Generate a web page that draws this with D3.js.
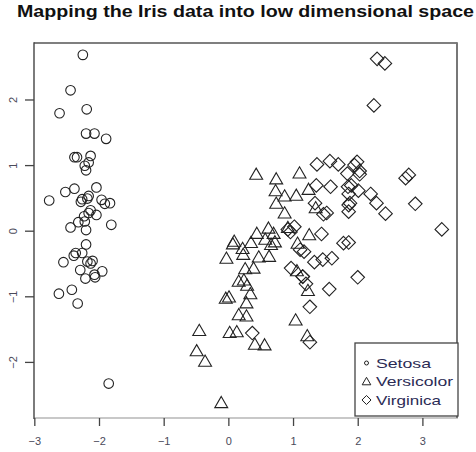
<!DOCTYPE html>
<html>
<head>
<meta charset="utf-8">
<script src="https://cdn.jsdelivr.net/npm/d3@7"></script>
<style>
  html, body { margin: 0; padding: 0; background: #fff; }
  svg { display: block; font-family: "Liberation Sans", Arial, sans-serif; }
</style>
</head>
<body>
<svg id="chart" width="476" height="452"></svg>
<script>
// Principal-component scores of the iris measurements (first two components)
const setosaX = [-2.26, -2.07, -2.36, -2.29, -2.38, -2.07, -2.44, -2.23, -2.33, -2.18,
  -2.16, -2.32, -2.21, -2.62, -2.19, -2.25, -2.20, -2.18, -1.89, -2.34,
  -1.91, -2.20, -2.77, -1.81, -2.22, -1.95, -2.04, -2.16, -2.13, -2.26,
  -2.13, -1.83, -2.61, -2.44, -2.10, -2.20, -2.04, -2.52, -2.42, -2.16,
  -2.28, -1.85, -2.55, -1.96, -2.13, -2.06, -2.38, -2.39, -2.22, -2.20];
const setosaY = [0.48, -0.67, -0.34, -0.60, 0.64, 1.48, 0.05, 0.22, -1.11, -0.47,
  1.04, 0.13, -0.73, -0.96, 1.85, 2.68, 1.48, 0.49, 1.40, 1.12,
  0.41, 0.92, 0.46, 0.09, 0.14, -0.62, 0.24, 0.53, 0.31, -0.34,
  -0.50, 0.42, 1.79, 2.14, -0.46, -0.21, 0.66, 0.59, -0.90, 0.27,
  0.44, -2.33, -0.48, 0.47, 1.14, -0.71, 1.12, -0.38, 0.99, 0.01];

const versicolorX = [1.10, 0.73, 1.24, 0.41, 1.07, 0.39, 0.74, -0.49, 0.92, 0.01,
  -0.11, 0.44, 0.56, 0.72, -0.03, 0.87, 0.35, 0.16, 1.22, 0.16,
  0.74, 0.47, 1.23, 0.63, 0.70, 0.87, 1.25, 1.35, 0.66, -0.04,
  0.13, 0.02, 0.24, 1.06, 0.22, 0.43, 1.05, 1.04, 0.07, 0.28,
  0.28, 0.62, 0.34, -0.36, 0.29, 0.09, 0.23, 0.57, -0.45, 0.26];
const versicolorY = [0.86, 0.59, 0.61, -1.75, -0.21, -0.59, 0.77, -1.85, 0.03, -1.03,
  -2.64, -0.06, -1.76, -0.19, -0.44, 0.51, -0.20, -0.79, -1.62, -1.30,
  0.40, -0.42, -0.93, -0.41, -0.06, 0.25, -0.08, 0.33, -0.23, -1.05,
  -1.56, -1.57, -0.77, -0.63, -0.29, 0.84, 0.52, -1.38, -0.22, -1.32,
  -1.12, 0.02, -0.98, -2.01, -0.85, -0.18, -0.38, -0.15, -1.54, -0.60];

const virginicaX = [1.84, 1.15, 2.20, 1.44, 1.86, 2.74, 0.37, 2.29, 2.00, 2.25,
  1.36, 1.60, 1.88, 1.26, 1.46, 1.58, 1.47, 2.42, 3.30, 1.26,
  2.03, 0.97, 2.89, 1.33, 1.70, 1.95, 1.17, 1.02, 1.78, 1.86,
  2.43, 2.30, 1.86, 1.11, 1.20, 2.79, 1.57, 1.34, 0.92, 1.85,
  2.01, 1.90, 1.15, 2.03, 1.99, 1.86, 1.56, 1.52, 1.37, 0.96];
const virginicaY = [0.87, -0.70, 0.56, -0.05, 0.29, 0.80, -1.56, 0.42, -0.71, 1.91,
  0.69, -0.42, 0.42, -1.16, -0.44, 0.67, 0.25, 2.55, 0.02, -1.70,
  0.91, -0.57, 0.41, -0.48, 1.01, 1.00, -0.32, 0.06, -0.19, 0.56,
  0.26, 2.62, -0.18, -0.29, -0.81, 0.85, 1.06, 0.42, 0.02, 0.67,
  0.61, 0.69, -0.70, 0.86, 1.05, 0.39, -0.89, 0.27, 1.01, -0.02];

const speciesNames = ["Setosa", "Versicolor", "Virginica"];
const xTicks = [-3, -2, -1, 0, 1, 2, 3];
const yTicks = [-2, -1, 0, 1, 2];
const titleText = "Mapping the Iris data into low dimensional space";

// ---- layout ----
const plot = { left: 34, right: 457, top: 43, bottom: 418 };
const x = d3.scaleLinear().domain([-3.005, 3.535]).range([plot.left, plot.right]);
const y = d3.scaleLinear().domain([-2.855, 2.861]).range([plot.bottom, plot.top]);

const svg = d3.select("#chart");
const ink = "#222";

// plotting symbols (open circle, open triangle, open diamond)
function trianglePath(R) {
  const r = 1.5551 * R, xc = 1.3468 * R, yc = 0.7776 * R;
  return `M0,${-r}L${xc},${yc}L${-xc},${yc}Z`;
}
function diamondPath(R) {
  const d = 1.4142 * R;
  return `M0,${-d}L${d},0L0,${d}L${-d},0Z`;
}
const R = 4.8;

const series = [
  { name: speciesNames[0], xs: setosaX, ys: setosaY, shape: "circle" },
  { name: speciesNames[1], xs: versicolorX, ys: versicolorY, shape: "triangle" },
  { name: speciesNames[2], xs: virginicaX, ys: virginicaY, shape: "diamond" }
];

// ---- frame ----
svg.append("line").attr("x1", plot.left).attr("x2", plot.right + 1)
  .attr("y1", plot.bottom).attr("y2", plot.bottom)
  .attr("stroke", "#c8c8c8").attr("stroke-width", 2);
svg.append("line").attr("x1", plot.left).attr("x2", plot.right)
  .attr("y1", plot.top).attr("y2", plot.top)
  .attr("stroke", "#555").attr("stroke-width", 1.6);
svg.append("line").attr("x1", plot.right).attr("x2", plot.right)
  .attr("y1", plot.top - 0.8).attr("y2", plot.bottom)
  .attr("stroke", "#777").attr("stroke-width", 2);
svg.append("line").attr("x1", plot.left).attr("x2", plot.left)
  .attr("y1", plot.top - 0.8).attr("y2", plot.bottom + 1)
  .attr("stroke", "#444").attr("stroke-width", 1.4);

// ---- axes ----
const xAxis = svg.append("g")
  .attr("transform", `translate(0,${plot.bottom})`)
  .call(d3.axisBottom(x).tickValues(xTicks).tickSize(8).tickFormat(d3.format("d")));
xAxis.select(".domain").remove();
xAxis.selectAll(".tick line").attr("stroke", "#444").attr("stroke-width", 1.3);
xAxis.selectAll(".tick text")
  .attr("y", 27).attr("dy", null)
  .attr("fill", "#4a4a5a")
  .style("font-size", "11px")
  .style("font-family", "'Liberation Sans', Arial, sans-serif");

const yAxis = svg.append("g")
  .attr("transform", `translate(${plot.left},0)`)
  .call(d3.axisLeft(y).tickValues(yTicks).tickSize(9).tickFormat(d3.format("d")));
yAxis.select(".domain").remove();
yAxis.selectAll(".tick line").attr("stroke", "#444").attr("stroke-width", 1.3);
yAxis.selectAll(".tick text")
  .attr("x", 0).attr("y", 0).attr("dy", null)
  .attr("transform", "translate(-17,0) rotate(-90)")
  .attr("text-anchor", "middle")
  .attr("fill", "#4a4a5a")
  .style("font-size", "11px")
  .style("font-family", "'Liberation Sans', Arial, sans-serif");

// ---- points ----
const pts = svg.append("g").attr("fill", "none").attr("stroke", ink).attr("stroke-width", 1.1);
series.forEach(s => {
  const data = s.xs.map((v, i) => ({ px: v, py: s.ys[i] }));
  if (s.shape === "circle") {
    pts.selectAll(null).data(data).join("circle")
      .attr("cx", d => x(d.px)).attr("cy", d => y(d.py)).attr("r", R);
  } else {
    const dPath = s.shape === "triangle" ? trianglePath(R) : diamondPath(R);
    pts.selectAll(null).data(data).join("path")
      .attr("d", dPath)
      .attr("transform", d => `translate(${x(d.px)},${y(d.py)})`);
  }
});

// ---- title ----
svg.append("text")
  .attr("x", 17).attr("y", 17)
  .attr("textLength", 457).attr("lengthAdjust", "spacingAndGlyphs")
  .style("font-size", "16px").style("font-weight", "bold")
  .attr("fill", "#111")
  .text(titleText);

// ---- legend ----
const lg = svg.append("g");
lg.append("rect").attr("x", 355).attr("y", 343).attr("width", 103).attr("height", 73)
  .attr("fill", "#fff").attr("stroke", "#444").attr("stroke-width", 1.3);
const legendRows = [
  { name: speciesNames[0], shape: "circle", cy: 363, w: 55 },
  { name: speciesNames[1], shape: "triangle", cy: 381.5, w: 77 },
  { name: speciesNames[2], shape: "diamond", cy: 400, w: 65 }
];
const Rl = 3.2;
legendRows.forEach(r => {
  if (r.shape === "circle") {
    lg.append("circle").attr("cx", 366.5).attr("cy", r.cy).attr("r", 2)
      .attr("fill", "none").attr("stroke", ink).attr("stroke-width", 1);
  } else {
    lg.append("path")
      .attr("d", r.shape === "triangle" ? trianglePath(Rl) : diamondPath(Rl))
      .attr("transform", `translate(366.5,${r.cy + (r.shape === "triangle" ? 0.8 : 0)})`)
      .attr("fill", "none").attr("stroke", ink).attr("stroke-width", 1);
  }
  lg.append("text")
    .attr("x", 376).attr("y", r.cy + 4.6)
    .attr("textLength", r.w).attr("lengthAdjust", "spacingAndGlyphs")
    .style("font-size", "13px")
    .attr("fill", "#2b2b55")
    .text(r.name);
});
</script>
</body>
</html>
